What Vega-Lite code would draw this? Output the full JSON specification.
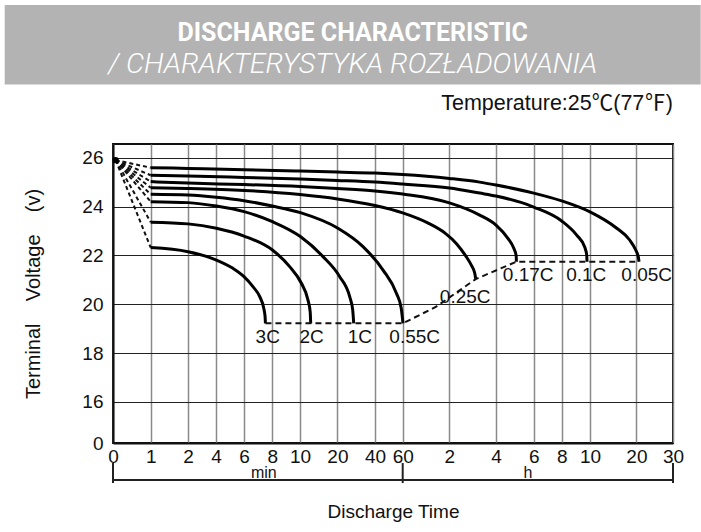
{
  "$schema": "https://vega.github.io/schema/vega-lite/v6.json",
  "width": 560,
  "height": 299,
  "autosize": {"type": "none"},
  "padding": {"left": 113, "top": 144, "right": 28, "bottom": 89},
  "background": "white",
  "config": {"view": {"stroke": "#111", "strokeWidth": 2}, "font": "Liberation Sans"},
  "datasets": {
    "curves": [
      {"rate": "3C", "t": 1, "v": 22.32}, {"rate": "3C", "t": 2, "v": 22.15}, {"rate": "3C", "t": 4.03, "v": 21.81}, {"rate": "3C", "t": 5.21, "v": 21.47}, {"rate": "3C", "t": 6, "v": 21.13}, {"rate": "3C", "t": 6.63, "v": 20.72}, {"rate": "3C", "t": 7.11, "v": 20.31}, {"rate": "3C", "t": 7.39, "v": 19.84}, {"rate": "3C", "t": 7.48, "v": 19.52}, {"rate": "3C", "t": 7.51, "v": 19.22},
      {"rate": "2C", "t": 1, "v": 23.36}, {"rate": "2C", "t": 2, "v": 23.29}, {"rate": "2C", "t": 4.03, "v": 23.11}, {"rate": "2C", "t": 6, "v": 22.79}, {"rate": "2C", "t": 8, "v": 22.22}, {"rate": "2C", "t": 9.25, "v": 21.54}, {"rate": "2C", "t": 10.37, "v": 20.86}, {"rate": "2C", "t": 12.14, "v": 20.17}, {"rate": "2C", "t": 12.73, "v": 19.68}, {"rate": "2C", "t": 12.86, "v": 19.22},
      {"rate": "1C", "t": 1, "v": 24.2}, {"rate": "1C", "t": 2, "v": 24.16}, {"rate": "1C", "t": 4.03, "v": 24.02}, {"rate": "1C", "t": 6, "v": 23.79}, {"rate": "1C", "t": 8, "v": 23.38}, {"rate": "1C", "t": 10.1, "v": 22.77}, {"rate": "1C", "t": 16.15, "v": 21.95}, {"rate": "1C", "t": 21.22, "v": 21.13}, {"rate": "1C", "t": 26.54, "v": 20.31}, {"rate": "1C", "t": 28.14, "v": 19.77}, {"rate": "1C", "t": 28.67, "v": 19.22},
      {"rate": "0.55C", "t": 1, "v": 24.5}, {"rate": "0.55C", "t": 2, "v": 24.47}, {"rate": "0.55C", "t": 4.03, "v": 24.38}, {"rate": "0.55C", "t": 6, "v": 24.24}, {"rate": "0.55C", "t": 8, "v": 24.02}, {"rate": "0.55C", "t": 10.1, "v": 23.75}, {"rate": "0.55C", "t": 20.3, "v": 23.11}, {"rate": "0.55C", "t": 33.6, "v": 22.36}, {"rate": "0.55C", "t": 45.8, "v": 21.4}, {"rate": "0.55C", "t": 55.45, "v": 20.45}, {"rate": "0.55C", "t": 58.9, "v": 19.85}, {"rate": "0.55C", "t": 60.4, "v": 19.22},
      {"rate": "0.25C", "t": 1, "v": 24.77}, {"rate": "0.25C", "t": 2, "v": 24.74}, {"rate": "0.25C", "t": 6, "v": 24.66}, {"rate": "0.25C", "t": 10, "v": 24.49}, {"rate": "0.25C", "t": 20, "v": 24.31}, {"rate": "0.25C", "t": 40, "v": 24.04}, {"rate": "0.25C", "t": 60, "v": 23.74}, {"rate": "0.25C", "t": 92.1, "v": 23.33}, {"rate": "0.25C", "t": 114, "v": 22.92}, {"rate": "0.25C", "t": 138.8, "v": 22.47}, {"rate": "0.25C", "t": 162, "v": 21.98}, {"rate": "0.25C", "t": 177.4, "v": 21.57}, {"rate": "0.25C", "t": 185.2, "v": 21.28}, {"rate": "0.25C", "t": 187.8, "v": 21.03},
      {"rate": "0.17C", "t": 1, "v": 25.02}, {"rate": "0.17C", "t": 2, "v": 24.96}, {"rate": "0.17C", "t": 6, "v": 24.9}, {"rate": "0.17C", "t": 10, "v": 24.82}, {"rate": "0.17C", "t": 20, "v": 24.74}, {"rate": "0.17C", "t": 40, "v": 24.64}, {"rate": "0.17C", "t": 60, "v": 24.51}, {"rate": "0.17C", "t": 120, "v": 24.15}, {"rate": "0.17C", "t": 198, "v": 23.65}, {"rate": "0.17C", "t": 240, "v": 23.24}, {"rate": "0.17C", "t": 277.2, "v": 22.71}, {"rate": "0.17C", "t": 296.3, "v": 22.3}, {"rate": "0.17C", "t": 304.3, "v": 21.98}, {"rate": "0.17C", "t": 304.9, "v": 21.74},
      {"rate": "0.1C", "t": 1, "v": 25.28}, {"rate": "0.1C", "t": 2, "v": 25.25}, {"rate": "0.1C", "t": 6, "v": 25.19}, {"rate": "0.1C", "t": 10, "v": 25.13}, {"rate": "0.1C", "t": 20, "v": 25.07}, {"rate": "0.1C", "t": 40, "v": 25.0}, {"rate": "0.1C", "t": 60, "v": 24.92}, {"rate": "0.1C", "t": 120, "v": 24.76}, {"rate": "0.1C", "t": 198, "v": 24.55}, {"rate": "0.1C", "t": 240, "v": 24.43}, {"rate": "0.1C", "t": 360, "v": 23.98}, {"rate": "0.1C", "t": 480, "v": 23.41}, {"rate": "0.1C", "t": 543.6, "v": 22.83}, {"rate": "0.1C", "t": 577.5, "v": 22.34}, {"rate": "0.1C", "t": 586, "v": 22.02}, {"rate": "0.1C", "t": 587.3, "v": 21.74},
      {"rate": "0.05C", "t": 1, "v": 25.59}, {"rate": "0.05C", "t": 2, "v": 25.56}, {"rate": "0.05C", "t": 6, "v": 25.51}, {"rate": "0.05C", "t": 10, "v": 25.45}, {"rate": "0.05C", "t": 20, "v": 25.41}, {"rate": "0.05C", "t": 40, "v": 25.37}, {"rate": "0.05C", "t": 60, "v": 25.31}, {"rate": "0.05C", "t": 120, "v": 25.15}, {"rate": "0.05C", "t": 198, "v": 25.0}, {"rate": "0.05C", "t": 240, "v": 24.88}, {"rate": "0.05C", "t": 360, "v": 24.55}, {"rate": "0.05C", "t": 480, "v": 24.23}, {"rate": "0.05C", "t": 600, "v": 23.78}, {"rate": "0.05C", "t": 941.4, "v": 23.12}, {"rate": "0.05C", "t": 1113, "v": 22.63}, {"rate": "0.05C", "t": 1191, "v": 22.22}, {"rate": "0.05C", "t": 1229.5, "v": 21.96}, {"rate": "0.05C", "t": 1243, "v": 21.74}
    ],
    "fan": [
      {"rate": "3C", "t": 0.07, "v": 25.9}, {"rate": "3C", "t": 1, "v": 22.32},
      {"rate": "2C", "t": 0.07, "v": 25.9}, {"rate": "2C", "t": 1, "v": 23.36},
      {"rate": "1C", "t": 0.07, "v": 25.9}, {"rate": "1C", "t": 1, "v": 24.2},
      {"rate": "0.55C", "t": 0.07, "v": 25.9}, {"rate": "0.55C", "t": 1, "v": 24.5},
      {"rate": "0.25C", "t": 0.07, "v": 25.9}, {"rate": "0.25C", "t": 1, "v": 24.77},
      {"rate": "0.17C", "t": 0.07, "v": 25.9}, {"rate": "0.17C", "t": 1, "v": 25.02},
      {"rate": "0.1C", "t": 0.07, "v": 25.9}, {"rate": "0.1C", "t": 1, "v": 25.28},
      {"rate": "0.05C", "t": 0.07, "v": 25.9}, {"rate": "0.05C", "t": 1, "v": 25.59}
    ],
    "cutoff": [
      {"t": 7.51, "v": 19.22}, {"t": 60.4, "v": 19.22}, {"t": 103, "v": 19.9}, {"t": 187.8, "v": 21.03}, {"t": 304.9, "v": 21.74}, {"t": 1243, "v": 21.74}
    ],
    "labels": [
      {"label": "3C", "t": 7.67, "v": 18.66}, {"label": "2C", "t": 13.1, "v": 18.66}, {"label": "1C", "t": 31.9, "v": 18.66}, {"label": "0.55C", "t": 75.4, "v": 18.66},
      {"label": "0.25C", "t": 160.7, "v": 20.31}, {"label": "0.17C", "t": 342.5, "v": 21.2}, {"label": "0.1C", "t": 583.9, "v": 21.2}, {"label": "0.05C", "t": 1368.9, "v": 21.2}
    ]
  },
  "encoding": {
    "x": {
      "field": "t", "type": "quantitative",
      "scale": {"type": "linear", "domain": [0, 1, 2, 4, 6, 8, 10, 20, 40, 60, 120, 240, 360, 480, 600, 1200, 1800], "range": [0, 37.7, 75, 103, 131, 159.4, 187, 224.4, 262, 289.7, 336.4, 383, 420.7, 448.7, 477, 523.4, 560], "nice": false, "zero": false},
      "axis": {
        "title": "Discharge Time", "titleFont": "Liberation Sans", "titleFontSize": 19, "titleFontWeight": "normal", "titleColor": "#111", "titlePadding": 36,
        "values": [0, 1, 2, 4, 6, 8, 10, 20, 40, 60, 120, 240, 360, 480, 600, 1200, 1800],
        "labelExpr": "datum.value >= 120 ? format(datum.value / 60, 'd') : format(datum.value, 'd')",
        "labelFont": "Liberation Sans", "labelFontSize": 19, "labelColor": "#111", "labelPadding": 4, "labelOverlap": false, "labelFlush": false, "labelBound": false,
        "ticks": false, "domainColor": "#111", "domainWidth": 2, "gridColor": "#8a8a8a", "gridWidth": 1.5, "gridOpacity": 1
      }
    },
    "y": {
      "field": "v", "type": "quantitative",
      "scale": {"domain": [14.32, 26.56], "nice": false, "zero": false},
      "axis": {
        "title": "Terminal\u00a0\u00a0\u00a0 Voltage\u00a0\u00a0\u00a0 (v)", "titleFont": "Liberation Sans", "titleFontSize": 20, "titleFontWeight": "normal", "titleColor": "#111", "titlePadding": 38,
        "values": [14.32, 16, 18, 20, 22, 24, 26],
        "labelExpr": "datum.value < 15 ? '0' : format(datum.value, 'd')",
        "labelFont": "Liberation Sans", "labelFontSize": 19, "labelColor": "#111", "labelPadding": 10,
        "ticks": false, "domainColor": "#111", "domainWidth": 2, "gridColor": "#222", "gridWidth": 1.2, "gridOpacity": 1
      }
    }
  },
  "layer": [
    {
      "data": {"values": [{"t": -2.873, "t2": 2254, "v": 29.0, "v2": 32.25}]},
      "mark": {"type": "rect", "color": "#b3b3b3"},
      "encoding": {"x2": {"field": "t2"}, "y2": {"field": "v2"}}
    },
    {
      "data": {"values": [{"text": "DISCHARGE CHARACTERISTIC", "t": 28.14, "v": 30.78}]},
      "mark": {"type": "text", "color": "white", "font": "Roboto", "fontWeight": "bold", "fontSize": 25, "align": "center", "baseline": "alphabetic"},
      "encoding": {"text": {"field": "text"}}
    },
    {
      "data": {"values": [{"text": "/ CHARAKTERYSTYKA ROZŁADOWANIA", "t": 28.14, "v": 29.47}]},
      "mark": {"type": "text", "color": "white", "font": "Roboto", "fontWeight": 300, "fontStyle": "italic", "fontSize": 28.5, "align": "center", "baseline": "alphabetic"},
      "encoding": {"text": {"field": "text"}}
    },
    {
      "data": {"values": [{"text": "Temperature:25℃(77℉)", "t": 1800, "v": 27.95}]},
      "mark": {"type": "text", "color": "#111", "font": "Liberation Sans, Noto Sans CJK SC", "fontSize": 21.5, "align": "right", "baseline": "alphabetic"},
      "encoding": {"text": {"field": "text"}}
    },
    {
      "data": {"name": "fan"},
      "mark": {"type": "line", "color": "#111", "strokeWidth": 2, "strokeDash": [4, 3]},
      "encoding": {"detail": {"field": "rate"}}
    },
    {
      "data": {"name": "curves"},
      "mark": {"type": "line", "color": "#000", "strokeWidth": 3, "interpolate": "monotone"},
      "encoding": {"detail": {"field": "rate"}}
    },
    {
      "data": {"name": "cutoff"},
      "mark": {"type": "line", "color": "#111", "strokeWidth": 2, "strokeDash": [6, 4]},
      "encoding": {}
    },
    {
      "data": {"values": [{"t": 0.07, "v": 25.9}]},
      "mark": {"type": "point", "filled": true, "color": "#000", "size": 40, "opacity": 1}
    },
    {
      "data": {"name": "labels"},
      "mark": {"type": "text", "color": "#111", "font": "Liberation Sans", "fontSize": 19, "align": "center", "baseline": "middle"},
      "encoding": {"text": {"field": "label"}}
    },
    {
      "data": {"values": [{"t": 0, "t2": 1800, "v": 12.81}]},
      "mark": {"type": "rule", "color": "#222", "strokeWidth": 2},
      "encoding": {"x2": {"field": "t2"}}
    },
    {
      "data": {"values": [{"t": 0, "v": 13.5, "v2": 12.68}, {"t": 60, "v": 13.5, "v2": 12.68}, {"t": 1800, "v": 13.5, "v2": 12.68}]},
      "mark": {"type": "rule", "color": "#222", "strokeWidth": 2},
      "encoding": {"y2": {"field": "v2"}}
    },
    {
      "data": {"values": [{"text": "min", "t": 7.4, "v": 12.88}, {"text": "h", "t": 342, "v": 12.88}]},
      "mark": {"type": "text", "color": "#111", "font": "Liberation Sans", "fontSize": 16, "align": "center", "baseline": "alphabetic"},
      "encoding": {"text": {"field": "text"}}
    }
  ]
}
